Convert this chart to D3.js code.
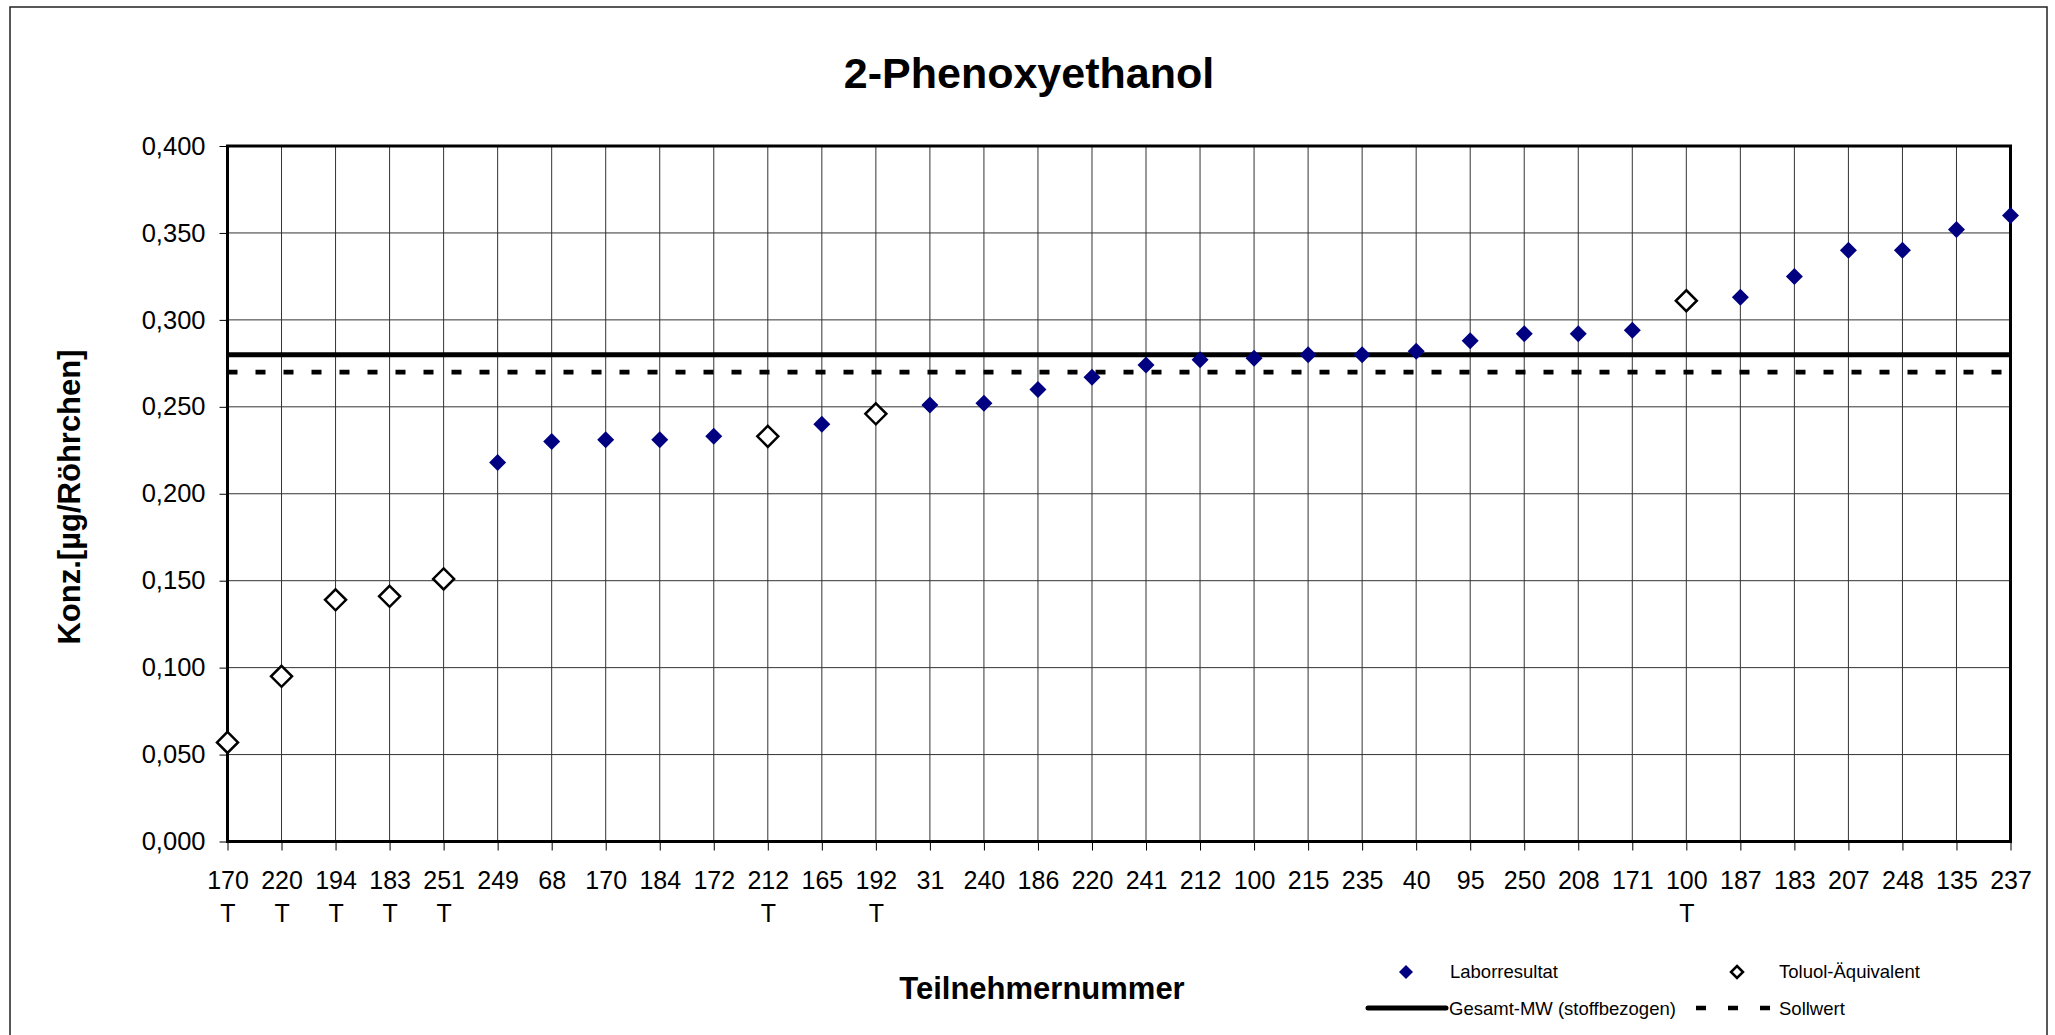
<!DOCTYPE html>
<html>
<head>
<meta charset="utf-8">
<script src="https://cdn.jsdelivr.net/npm/d3@7"></script>
<style>
  html, body { margin: 0; padding: 0; background: #fff; }
  svg { display: block; font-family: "Liberation Sans", Arial, sans-serif; }
</style>
</head>
<body>
<svg id="chart" width="2055" height="1035"></svg>
<script>
// ---- data ----
const participants = ["170","220","194","183","251","249","68","170","184","172","212","165","192","31","240","186","220","241","212","100","215","235","40","95","250","208","171","100","187","183","207","248","135","237"];
const toluolFlags  = ["T","T","T","T","T","","","","","","T","","T","","","","","","","","","","","","","","","T","","","","","",""];
const laborValues  = [null,null,null,null,null,0.218,0.230,0.231,0.231,0.233,null,0.240,null,0.251,0.252,0.260,0.267,0.274,0.277,0.278,0.280,0.280,0.282,0.288,0.292,0.292,0.294,null,0.313,0.325,0.340,0.340,0.352,0.360];
const toluolValues = [0.057,0.095,0.139,0.141,0.151,null,null,null,null,null,0.233,null,0.246,null,null,null,null,null,null,null,null,null,null,null,null,null,null,0.311,null,null,null,null,null,null];
const gesamtMW = 0.280;
const sollwert = 0.270;
const yTicks = [0,0.05,0.1,0.15,0.2,0.25,0.3,0.35,0.4];
const titleText = "2-Phenoxyethanol";
const yTitle = "Konz.[µg/Röhrchen]";
const xTitle = "Teilnehmernummer";
const legendLabels = ["Laborresultat","Toluol-Äquivalent","Gesamt-MW (stoffbezogen)","Sollwert"];

// ---- layout ----
const svg = d3.select("#chart");
const L = 227.5, R = 2010.5, T = 146, B = 841.5;
const idx = participants.map((d,i)=>i);
const x = d3.scalePoint().domain(idx).range([L, R]).padding(0);
const y = d3.scaleLinear().domain([0, 0.4]).range([B, T]);
const loc = d3.formatLocale({decimal: ",", thousands: ".", grouping: [3], currency: ["", "€"]});
const fmt = loc.format(".3f");

// outer border
svg.append("rect").attr("x",10).attr("y",7).attr("width",2037).attr("height",1040)
  .attr("fill","none").attr("stroke","#222").attr("stroke-width",1.5);

// title
svg.append("text").attr("x",1029).attr("y",88).attr("text-anchor","middle")
  .attr("font-size",43).attr("font-weight","bold").text(titleText);

// gridlines
const g = svg.append("g");
g.selectAll("line.hg").data(yTicks).enter().append("line")
  .attr("x1",L).attr("x2",R).attr("y1",d=>y(d)).attr("y2",d=>y(d))
  .attr("stroke","#333").attr("stroke-width",1);
g.selectAll("line.vg").data(idx).enter().append("line")
  .attr("x1",d=>x(d)).attr("x2",d=>x(d)).attr("y1",T).attr("y2",B)
  .attr("stroke","#333").attr("stroke-width",1);

// y axis
const yAxis = d3.axisLeft(y).tickValues(yTicks).tickFormat(fmt).tickSize(8).tickPadding(14);
const yg = svg.append("g").attr("transform",`translate(${L},0)`).call(yAxis);
yg.select(".domain").remove();
yg.selectAll("line").attr("stroke","#000").attr("stroke-width",1);
yg.selectAll("text").attr("font-size",25.5).attr("fill","#000").attr("font-family","Liberation Sans, Arial, sans-serif");

// x axis
const xAxis = d3.axisBottom(x).tickFormat(i=>participants[i]).tickSize(9).tickPadding(0);
const xg = svg.append("g").attr("transform",`translate(0,${B})`).call(xAxis);
xg.select(".domain").remove();
xg.selectAll("line").attr("stroke","#000").attr("stroke-width",1);
xg.selectAll(".tick text").remove();
xg.selectAll(".tick").each(function(i){
  const t = d3.select(this).append("text").attr("text-anchor","middle")
    .attr("font-size",25).attr("fill","#000").attr("font-family","Liberation Sans, Arial, sans-serif");
  t.append("tspan").attr("x",0).attr("y",47).text(participants[i]);
  if (toluolFlags[i]) t.append("tspan").attr("x",0).attr("y",80).text(toluolFlags[i]);
});

// plot frame
svg.append("rect").attr("x",L).attr("y",T).attr("width",R-L).attr("height",B-T)
  .attr("fill","none").attr("stroke","#000").attr("stroke-width",3);

// reference lines
svg.append("line").attr("x1",L).attr("x2",R).attr("y1",y(gesamtMW)).attr("y2",y(gesamtMW))
  .attr("stroke","#000").attr("stroke-width",5);
svg.append("line").attr("x1",L).attr("x2",R).attr("y1",y(sollwert)).attr("y2",y(sollwert))
  .attr("stroke","#000").attr("stroke-width",4.8).attr("stroke-dasharray","10,18");

// markers
const diamond = (cx, cy, r) => `M${cx},${cy-r}L${cx+r},${cy}L${cx},${cy+r}L${cx-r},${cy}Z`;
const labor = idx.filter(i=>laborValues[i]!==null);
svg.selectAll("path.labor").data(labor).enter().append("path")
  .attr("d",i=>diamond(x(i), y(laborValues[i]), 8.5))
  .attr("fill","#000080");
const tol = idx.filter(i=>toluolValues[i]!==null);
svg.selectAll("path.tol").data(tol).enter().append("path")
  .attr("d",i=>diamond(x(i), y(toluolValues[i]), 10.5))
  .attr("fill","#fff").attr("stroke","#000").attr("stroke-width",2.5);

// axis titles
svg.append("text").attr("transform","translate(80,497) rotate(-90)").attr("text-anchor","middle")
  .attr("font-size",31).attr("font-weight","bold").text(yTitle);
svg.append("text").attr("x",1042).attr("y",999).attr("text-anchor","middle")
  .attr("font-size",31).attr("font-weight","bold").text(xTitle);

// legend
const lg = svg.append("g").attr("font-size",18.5);
lg.append("path").attr("d",diamond(1406,972,7)).attr("fill","#000080");
lg.append("text").attr("x",1450).attr("y",978).text(legendLabels[0]);
lg.append("path").attr("d",diamond(1737,972,6)).attr("fill","#fff").attr("stroke","#000").attr("stroke-width",2.5);
lg.append("text").attr("x",1779).attr("y",978).text(legendLabels[1]);
lg.append("line").attr("x1",1368).attr("x2",1446).attr("y1",1008).attr("y2",1008)
  .attr("stroke","#000").attr("stroke-width",5).attr("stroke-linecap","round");
lg.append("text").attr("x",1449).attr("y",1015).text(legendLabels[2]);
lg.append("line").attr("x1",1696).attr("x2",1770).attr("y1",1008).attr("y2",1008)
  .attr("stroke","#000").attr("stroke-width",4.5).attr("stroke-dasharray","10,22");
lg.append("text").attr("x",1779).attr("y",1015).text(legendLabels[3]);
</script>
</body>
</html>
